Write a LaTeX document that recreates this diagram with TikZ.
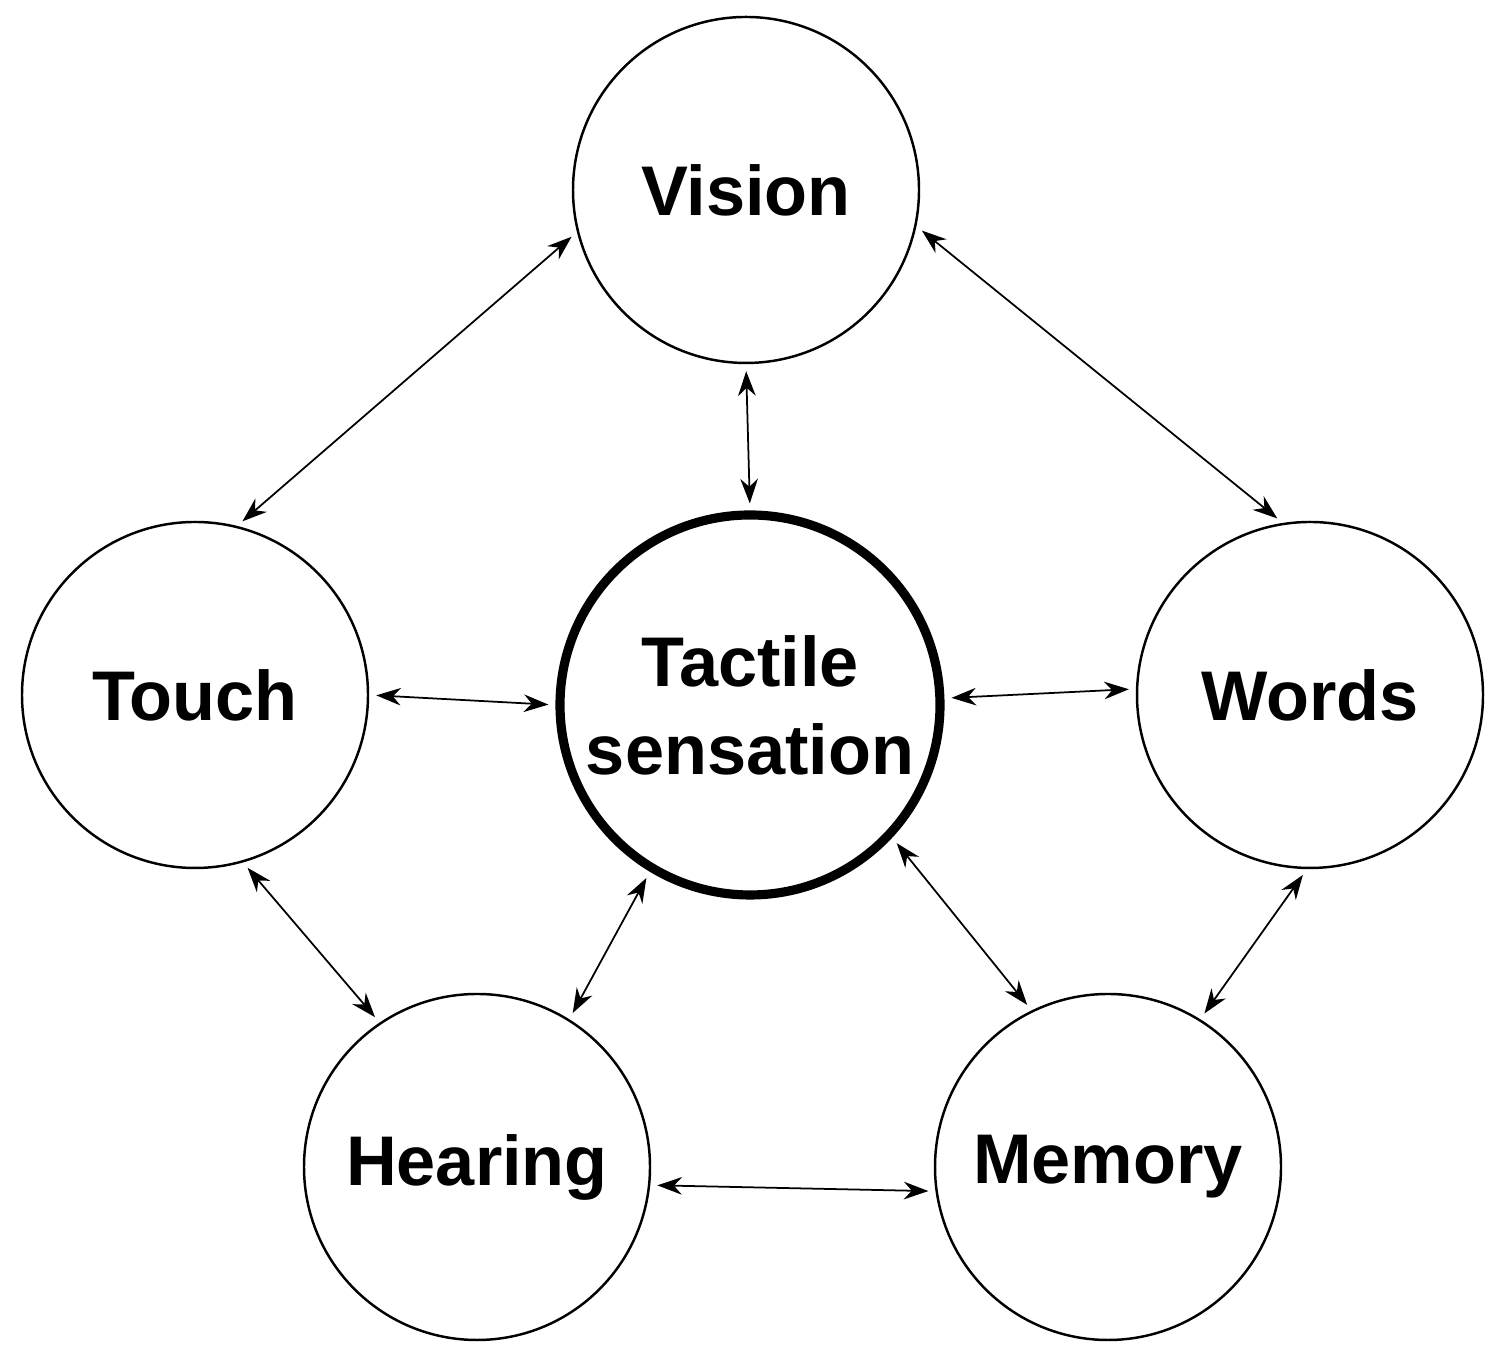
\documentclass[tikz,border=0pt]{standalone}
\usepackage{fontspec}
\setmainfont{Liberation Sans}
\usetikzlibrary{arrows.meta}
\begin{document}
\begin{tikzpicture}[
  sense/.style={circle, draw, line width=0.7pt, minimum size=3.46cm, inner sep=0pt,
    font=\fontsize{20}{25}\selectfont\bfseries, align=center},
  link/.style={{Stealth[length=7pt,width=5pt]}-{Stealth[length=7pt,width=5pt]}, line width=0.5pt, shorten <=2pt, shorten >=2pt}]
\useasboundingbox (0,0) rectangle (15.10,13.55);
\node[sense] (vision) at (7.46,11.65) {Vision};
\node[sense] (touch) at (1.95,6.60) {Touch};
\node[sense, line width=2.6pt, minimum size=3.8cm] (tactile) at (7.50,6.50) {Tactile\\sensation};
\node[sense] (words) at (13.10,6.60) {Words};
\node[sense] (hearing) at (4.77,1.88) {Hearing};
\node[sense] (memory) at (11.08,1.88) {Memory};
\draw[link] (vision.south) -- (tactile.north);
\draw[link] (vision.194) -- (touch.76);
\draw[link] (vision.-12) -- (words.99);
\draw[link] (touch.0) -- (tactile.180);
\draw[link] (tactile.2) -- (words.178);
\draw[link] (touch.-74) -- (hearing.124);
\draw[link] (tactile.-121) -- (hearing.58);
\draw[link] (tactile.-43) -- (memory.116);
\draw[link] (words.-91) -- (memory.58);
\draw[link] (hearing.-6) -- (memory.188);
\end{tikzpicture}
\end{document}
